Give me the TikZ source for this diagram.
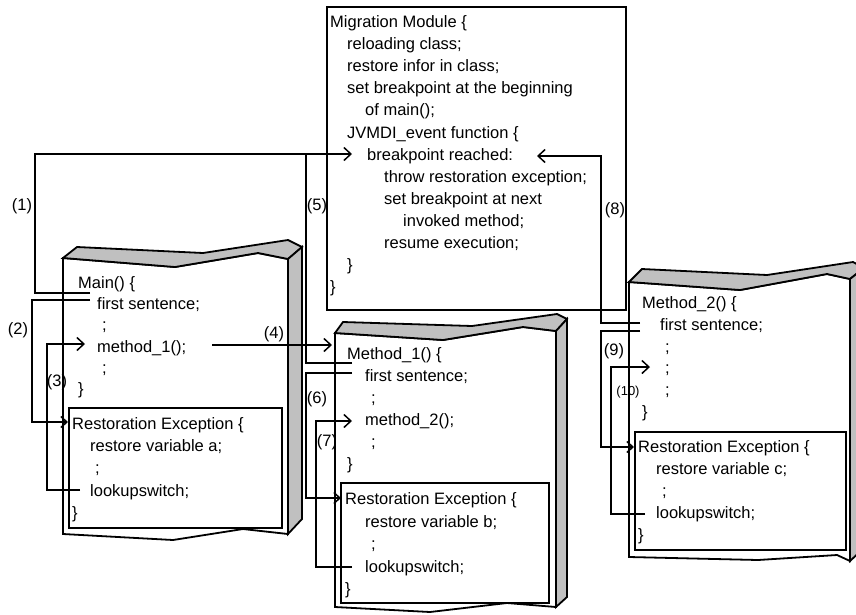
\documentclass[tikz,border=0pt]{standalone}
\usepackage{fontspec}
\setmainfont{Liberation Sans}
\usetikzlibrary{arrows.meta}

\definecolor{sidegray}{RGB}{192,192,192}

\tikzset{
	code/.style={anchor=base west, inner sep=0pt, font=\fontsize{16.5}{20}\selectfont},
	lbl/.style={inner sep=0pt, font=\fontsize{16.5}{20}\selectfont},
	frame/.style={line width=1.8pt, line join=miter},
	conn/.style={line width=1.5pt},
	tip/.style={-{Straight Barb[length=7pt,width=13pt]}},
	tipsmall/.style={-{Straight Barb[length=6pt,width=11pt]}},
}

\begin{document}
\begin{tikzpicture}[x=1pt,y=-1pt]
	\useasboundingbox (0,0) rectangle (856,614);
	
	% rails of the connectors
	\def\xA{35}
	\def\xB{32}
	\def\xC{47}
	\def\xE{306}
	\def\xG{316}
	\def\xH{601}
	\def\xJ{611}
	
	% migration module
	\draw[frame] (327,7) rectangle (626,310);
	
	% frame of Main()
	\filldraw[frame, fill=white] (63,258) -- (175,267) -- (258,253) -- (288,259) -- (288,534) -- (243,529) -- (173,540) -- (63,534) -- cycle;
	\filldraw[frame, fill=sidegray] (63,258) -- (77,247) -- (203,253) -- (288,240) -- (302,247) -- (288,259) -- (258,253) -- (175,267) -- cycle;
	\filldraw[frame, fill=sidegray] (288,259) -- (302,247) -- (302,519) -- (288,534) -- cycle;
	\draw[frame] (69,408) rectangle (282,528);
	
	% frame of Method_1()
	\filldraw[frame, fill=white] (335,333) -- (443,340) -- (523,327) -- (556,331) -- (556,607) -- (507,603) -- (430,612) -- (335,607) -- cycle;
	\filldraw[frame, fill=sidegray] (335,333) -- (343,322) -- (472,326) -- (557,314) -- (567,319) -- (556,331) -- (523,327) -- (443,340) -- cycle;
	\filldraw[frame, fill=sidegray] (556,331) -- (567,319) -- (567,597) -- (556,607) -- cycle;
	\draw[frame] (341,483) rectangle (549,603);
	
	% frame of Method_2()
	\filldraw[frame, fill=white] (629,282) -- (740,290) -- (827,274) -- (850,279) -- (850,561) -- (837,555) -- (758,560) -- (629,557) -- cycle;
	\filldraw[frame, fill=sidegray] (629,282) -- (642,269) -- (767,275) -- (853,262) -- (864,268) -- (850,279) -- (827,274) -- (740,290) -- cycle;
	\filldraw[frame, fill=sidegray] (850,279) -- (864,268) -- (864,548) -- (850,561) -- cycle;
	\draw[frame] (635,432) rectangle (846,550);
	
	% text of the migration module
	\node[code] (mmHead) at (330,27.5) {Migration Module \{};
	\node[code] (mmReload) at (347,49.6) {reloading class;};
	\node[code] (mmRestore) at (347,71.7) {restore infor in class;};
	\node[code] (mmSetBp) at (347,93.8) {set breakpoint at the beginning};
	\node[code] (mmOfMain) at (365,115.9) {of main();};
	\node[code] (mmEvent) at (347,138) {JVMDI\_event function \{};
	\node[code] (mmReached) at (367,160.1) {breakpoint reached:};
	\node[code] (mmThrow) at (384,182.2) {throw restoration exception;};
	\node[code] (mmNext) at (384,204.3) {set breakpoint at next};
	\node[code] (mmInvoked) at (403,226.4) {invoked method;};
	\node[code] (mmResume) at (384,248.5) {resume execution;};
	\node[code] (mmEndEvent) at (347,270.6) {\}};
	\node[code] (mmEnd) at (330,292.7) {\}};
	
	% text of Main()
	\node[code] (mainHead) at (78,288.5) {Main() \{};
	\node[code] (mainFirst) at (97,309.7) {first sentence;};
	\node[code] (mainDotA) at (102,330.9) {;};
	\node[code] (mainCall) at (97,352.1) {method\_1();};
	\node[code] (mainDotB) at (102,373.3) {;};
	\node[code] (mainEnd) at (78,394.5) {\}};
	\node[code] (reaHead) at (72,429.5) {Restoration Exception \{};
	\node[code] (reaVar) at (90,451.7) {restore variable a;};
	\node[code] (reaDot) at (95,473.9) {;};
	\node[code] (reaSwitch) at (90,496.1) {lookupswitch;};
	\node[code] (reaEnd) at (72,518.3) {\}};
	
	% text of Method_1()
	\node[code] (oneHead) at (347,359.5) {Method\_1() \{};
	\node[code] (oneFirst) at (365,381.5) {first sentence;};
	\node[code] (oneDotA) at (371,403.5) {;};
	\node[code] (oneCall) at (365,425.5) {method\_2();};
	\node[code] (oneDotB) at (371,447.5) {;};
	\node[code] (oneEnd) at (347,469.5) {\}};
	\node[code] (rebHead) at (345,504.5) {Restoration Exception \{};
	\node[code] (rebVar) at (365,527) {restore variable b;};
	\node[code] (rebDot) at (371,549.5) {;};
	\node[code] (rebSwitch) at (365,572) {lookupswitch;};
	\node[code] (rebEnd) at (345,594.5) {\}};
	
	% text of Method_2()
	\node[code] (twoHead) at (642,308.5) {Method\_2() \{};
	\node[code] (twoFirst) at (660,330.3) {first sentence;};
	\node[code] (twoDotA) at (665,352.1) {;};
	\node[code] (twoDotB) at (665,373.9) {;};
	\node[code] (twoDotC) at (665,395.7) {;};
	\node[code] (twoEnd) at (642,417.5) {\}};
	\node[code] (recHead) at (638,452.5) {Restoration Exception \{};
	\node[code] (recVar) at (656,474.5) {restore variable c;};
	\node[code] (recDot) at (662,496.5) {;};
	\node[code] (recSwitch) at (656,518.5) {lookupswitch;};
	\node[code] (recEnd) at (638,540.5) {\}};
	
	% ends of the connectors
	\coordinate (s1) at (90,293);   \coordinate (t1) at (352,154);
	\coordinate (s2) at (90,300);   \coordinate (t2) at (68,422);
	\coordinate (s3) at (80,490);   \coordinate (t3) at (85,344);
	\coordinate (s4) at (212,345);  \coordinate (t4) at (332,345);
	\coordinate (s5) at (352,363);
	\coordinate (s6) at (352,373);  \coordinate (t6) at (341,498);
	\coordinate (s7) at (352,567);  \coordinate (t7) at (352,421);
	\coordinate (s8) at (640,323);  \coordinate (t8) at (537,156);
	\coordinate (s9) at (640,331);  \coordinate (t9) at (634,447);
	\coordinate (s10) at (645,514); \coordinate (t10) at (650,367);
	
	\draw[conn, tip] (s1) -- (s1 -| \xA,0) |- (t1);
	\draw[conn, tipsmall] (s2) -- (s2 -| \xB,0) |- (t2);
	\draw[conn, tip] (s3) -- (s3 -| \xC,0) |- (t3);
	\draw[conn, tip] (s4) -- (t4);
	\draw[conn] (s5) -- (s5 -| \xE,0) -- (\xE,154);
	\draw[conn, tipsmall] (s6) -- (s6 -| \xE,0) |- (t6);
	\draw[conn, tip] (s7) -- (s7 -| \xG,0) |- (t7);
	\draw[conn, tip] (s8) -- (s8 -| \xH,0) |- (t8);
	\draw[conn, tipsmall] (s9) -- (s9 -| \xH,0) |- (t9);
	\draw[conn, tip] (s10) -- (s10 -| \xJ,0) |- (t10);
	
	% step labels
	\node[lbl] (l1) at (22,206) {(1)};
	\node[lbl] (l2) at (18,330) {(2)};
	\node[lbl] (l3) at (57,382) {(3)};
	\node[lbl] (l4) at (274,334) {(4)};
	\node[lbl] (l5) at (317,206) {(5)};
	\node[lbl] (l6) at (317,399) {(6)};
	\node[lbl] (l7) at (327,442) {(7)};
	\node[lbl] (l8) at (615,210) {(8)};
	\node[lbl] (l9) at (614,351) {(9)};
	\node[lbl, font=\fontsize{13}{15}\selectfont] (l10) at (628,392) {(10)};
\end{tikzpicture}
\end{document}
